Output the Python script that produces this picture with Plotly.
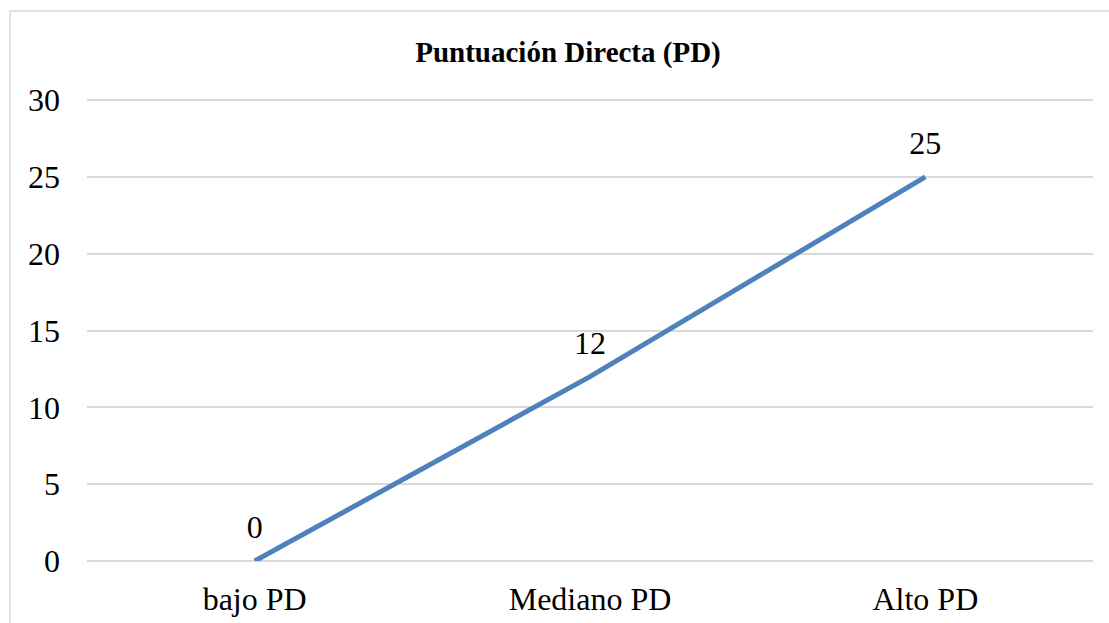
import plotly.graph_objs as go

# Datos del gráfico
categorias = ["bajo PD", "Mediano PD", "Alto PD"]
puntuacion = [0, 12, 25]
y_ticks = [0, 5, 10, 15, 20, 25, 30]

W, H = 1109, 623
fuente = "Liberation Serif"

fig = go.Figure()

# marcadores invisibles para separar las etiquetas de la línea
fig.add_trace(go.Scatter(
    x=categorias,
    y=puntuacion,
    mode="lines+markers+text",
    text=[str(v) for v in puntuacion],
    textposition="top center",
    textfont=dict(family=fuente, size=32, color="black"),
    line=dict(color="#4F81BD", width=5),
    marker=dict(size=22, color="rgba(0,0,0,0)"),
    cliponaxis=False,
    showlegend=False))

# marco del gráfico
fig.add_shape(type="rect", xref="paper", yref="paper",
              x0=10 / W, x1=1.2, y0=-0.2, y1=(H - 11) / H,
              line=dict(color="#d9d9d9", width=1.5), layer="below")

# 30 unidades = 461 px; el rango sube un poco para que se vea la línea de 30
y_max = 30.3
y_top = 561 - 461 / 30 * y_max

fig.update_layout(
    width=W, height=H,
    margin=dict(l=0, r=0, t=0, b=0),
    paper_bgcolor="white",
    plot_bgcolor="white",
    font=dict(family=fuente, color="black"),
    title=dict(text="<b>Puntuación Directa (PD)</b>",
               x=568 / W, xanchor="center",
               y=(H - 52) / H, yanchor="middle",
               font=dict(family=fuente, size=29, color="black")),
    xaxis=dict(
        domain=[87 / W, 1093 / W],
        type="category",
        range=[-0.5, 2.5],
        showgrid=False,
        showline=False,
        zeroline=False,
        ticks="",
        ticklabelstandoff=16,
        automargin=False,
        tickfont=dict(family=fuente, size=32, color="black")),
    yaxis=dict(
        domain=[(H - 561) / H, (H - y_top) / H],
        range=[0, y_max],
        tickvals=y_ticks,
        showgrid=True,
        gridcolor="#d9d9d9",
        gridwidth=1.5,
        zeroline=True,
        zerolinecolor="#d9d9d9",
        zerolinewidth=1.5,
        showline=False,
        ticks="",
        ticklabelstandoff=26,
        automargin=False,
        tickfont=dict(family=fuente, size=32, color="black")),
)

fig.write_html("out.html", config={"displayModeBar": False},
               post_script="document.body.style.margin='0';")
